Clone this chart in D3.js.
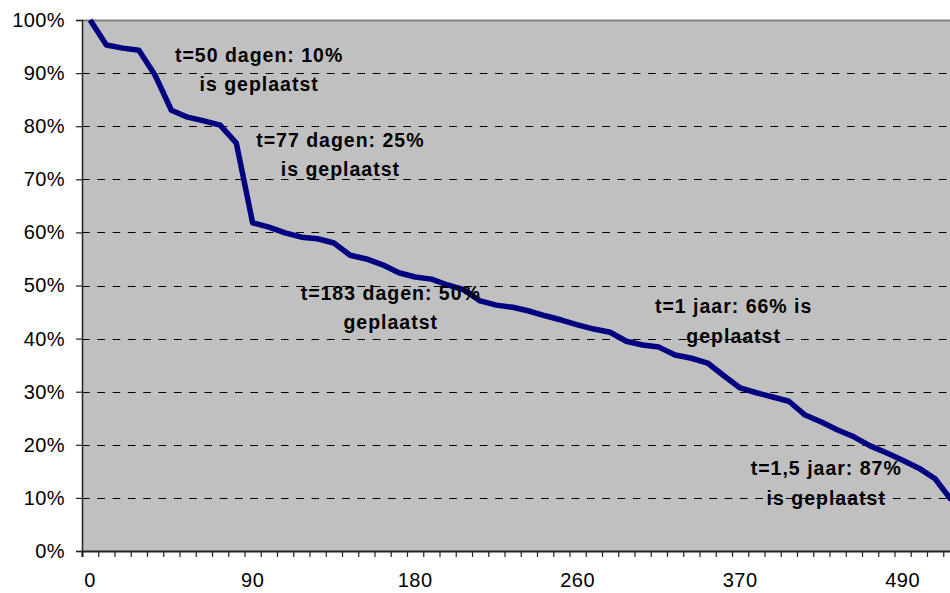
<!DOCTYPE html>
<html>
<head>
<meta charset="utf-8">
<script src="https://cdn.jsdelivr.net/npm/d3@7"></script>
<style>
  html, body { margin: 0; padding: 0; background: #fff; overflow: hidden; }
  svg { display: block; }
  text { font-family: "Liberation Sans", Arial, sans-serif; }
</style>
</head>
<body>
<svg id="chart" width="950" height="593"></svg>
<script>
// ---- data ----
// share still to be placed (%) per category (days), in order
const remainingPct = [100, 95.3, 94.7, 94.3, 89.6, 83.0, 81.7, 81.0, 80.2, 76.8,
  61.8, 61.0, 59.9, 59.1, 58.8, 58.0, 55.7, 55.0, 53.9, 52.4,
  51.6, 51.2, 50.1, 49.2, 47.1, 46.3, 45.9, 45.2, 44.3, 43.5,
  42.6, 41.8, 41.2, 39.5, 38.8, 38.4, 36.9, 36.3, 35.4, 33.0,
  30.7, 29.8, 29.0, 28.2, 25.6, 24.3, 22.8, 21.5, 19.8, 18.5,
  17.1, 15.6, 13.6, 9.6];
const xTickIndex = [0, 10, 20, 30, 40, 50];
const xTickLabels = ["0", "90", "180", "260", "370", "490"];
const yTicks = [0, 10, 20, 30, 40, 50, 60, 70, 80, 90, 100];
const annotationLines = [
  ["t=50 dagen: 10%", "is geplaatst"],
  ["t=77 dagen: 25%", "is geplaatst"],
  ["t=183 dagen: 50%", "geplaatst"],
  ["t=1 jaar: 66% is", "geplaatst"],
  ["t=1,5 jaar: 87%", "is geplaatst"]
];
// anchor of each annotation in data units: [category position, percent]
const annotationAnchorCat = [10.9, 15.9, 19.0, 40.1, 45.8];
const annotationAnchorPct = [92.1, 76.1, 47.3, 44.8, 14.3];

// ---- layout ----
const FONT = "'Liberation Sans', Arial, sans-serif";
const svg = d3.select("#chart");
const mLeft = 82, mTop = 20, mBottom = 551;
const catW = 16.25;
const n = remainingPct.length;
const mRight = mLeft + n * catW;

const xBand = d3.scaleBand().domain(d3.range(n)).range([mLeft, mRight]).padding(0);
const xEdge = d3.scaleLinear().domain([0, n]).range([mLeft, mRight]);
const y = d3.scaleLinear().domain([0, 100]).range([mBottom, mTop]);

// plot background
svg.append("rect")
  .attr("x", mLeft).attr("y", mTop)
  .attr("width", mRight - mLeft).attr("height", mBottom - mTop)
  .attr("fill", "#C0C0C0");

// gridlines
svg.append("g")
  .selectAll("line")
  .data(yTicks.filter(v => v > 0 && v < 100))
  .join("line")
  .attr("x1", mLeft).attr("x2", mRight)
  .attr("y1", d => Math.round(y(d)) + 0.5).attr("y2", d => Math.round(y(d)) + 0.5)
  .attr("stroke", "#000").attr("stroke-width", 1)
  .attr("stroke-dasharray", "7.7,7.6");

// top border
svg.append("line")
  .attr("x1", mLeft).attr("x2", mRight)
  .attr("y1", mTop + 0.5).attr("y2", mTop + 0.5)
  .attr("stroke", "#808080").attr("stroke-width", 2);

// line
const line = d3.line()
  .x((d, i) => xBand(i) + xBand.bandwidth() / 2)
  .y(d => y(d));
svg.append("path")
  .datum(remainingPct)
  .attr("d", line)
  .attr("fill", "none")
  .attr("stroke", "#000080")
  .attr("stroke-width", 5.5)
  .attr("stroke-linejoin", "round");

// y axis
const yAxis = d3.axisLeft(y).tickValues(yTicks).tickSize(6).tickPadding(11)
  .tickFormat(d => d + "%");
const gy = svg.append("g").attr("transform", `translate(${mLeft},0)`).call(yAxis);
gy.attr("font-family", FONT);
gy.select(".domain").attr("stroke", "#222").attr("stroke-width", 1.5);
gy.selectAll(".tick line").attr("stroke", "#222").attr("stroke-width", 1.2);
gy.selectAll(".tick text")
  .attr("font-size", 20).attr("fill", "#000")
  .style("letter-spacing", "0.4px");

// x axis ticks (between categories)
const xTickAxis = d3.axisBottom(xEdge).tickValues(d3.range(n + 1)).tickSize(6).tickFormat("");
const gxt = svg.append("g").attr("transform", `translate(0,${mBottom})`).call(xTickAxis);
gxt.select(".domain").attr("stroke", "#222").attr("stroke-width", 2);
gxt.selectAll(".tick line").attr("stroke", "#222").attr("stroke-width", 1.2);

// x axis labels
const xLabelAxis = d3.axisBottom(xBand).tickValues(xTickIndex).tickSize(0).tickPadding(22)
  .tickFormat(i => xTickLabels[xTickIndex.indexOf(i)]);
const gxl = svg.append("g").attr("transform", `translate(0,${mBottom})`).call(xLabelAxis);
gxl.attr("font-family", FONT);
gxl.select(".domain").remove();
gxl.selectAll(".tick text")
  .attr("font-size", 20).attr("fill", "#000")
  .style("letter-spacing", "0.4px");

// annotations
const ann = svg.append("g").attr("font-family", FONT);
annotationLines.forEach((lines, k) => {
  const cx = xEdge(annotationAnchorCat[k]);
  const by = y(annotationAnchorPct[k]);
  const t = ann.append("text")
    .attr("text-anchor", "middle")
    .attr("font-size", 19.5)
    .attr("font-weight", "bold")
    .attr("fill", "#000")
    .style("letter-spacing", "1px");
  lines.forEach((s, j) => {
    t.append("tspan").attr("x", cx).attr("y", by + j * 29.5).text(s);
  });
});
</script>
</body>
</html>
